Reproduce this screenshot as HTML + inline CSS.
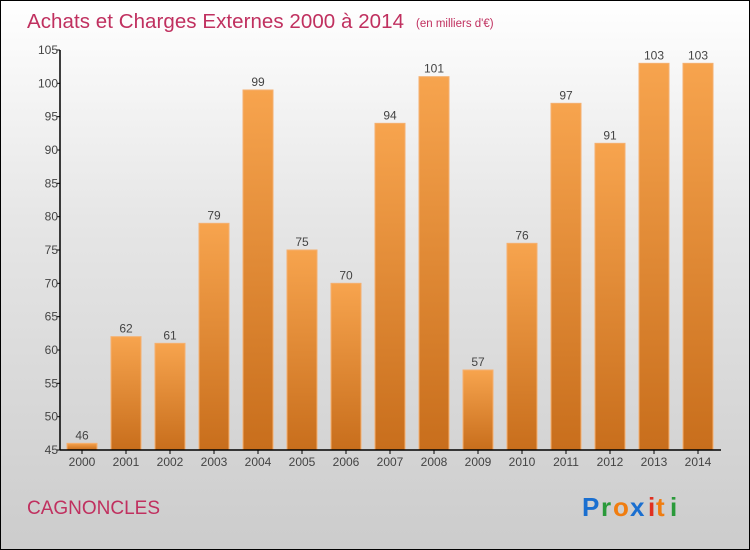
<!DOCTYPE html>
<html><head><meta charset="utf-8"><style>
html,body{margin:0;padding:0}
body{width:750px;height:550px;overflow:hidden;font-family:"Liberation Sans",sans-serif}
#wrap{position:absolute;left:0;top:0;width:748px;height:548px;border:1px solid #000;background:linear-gradient(#ffffff,#e6e6e6 40%,#cccccc)}
</style></head><body>
<div id="wrap">
<svg id="chart" width="750" height="550" style="position:absolute;left:-1px;top:-1px">
<defs><linearGradient id="bg" x1="0" y1="0" x2="0" y2="1"><stop offset="0" stop-color="#f7a44e"/><stop offset="1" stop-color="#c86e1c"/></linearGradient></defs>
<text x="27" y="28" font-size="20.5" fill="#c0305f" textLength="377">Achats et Charges Externes 2000 à 2014</text>
<text x="416" y="27" font-size="11.5" fill="#c0305f">(en milliers d'€)</text>
<text x="27" y="514" font-size="19" fill="#c0305f">CAGNONCLES</text>
<g font-size="26" font-weight="bold">
<text x="582" y="516" fill="#1a6fd0">P</text><text x="601" y="516" fill="#2a9a3a">r</text><text x="613" y="516" fill="#f07d10">o</text><text x="630" y="516" fill="#1a6fd0">x</text><text x="648" y="516" fill="#e03020">i</text><text x="656" y="516" fill="#f07d10">t</text><text x="670" y="516" fill="#2a9a3a">i</text></g>
<g id="bars"></g><g id="axes"></g>
</svg></div>
<script>
const years=["2000","2001","2002","2003","2004","2005","2006","2007","2008","2009","2010","2011","2012","2013","2014"];
const values=[46,62,61,79,99,75,70,94,101,57,76,97,91,103,103];
const yTicks=[45,50,55,60,65,70,75,80,85,90,95,100,105];
const NS="http://www.w3.org/2000/svg";
const x0=60,slot=44,yMin=45,yMax=105,yTop=50,yBot=450;
function y(v){return yBot-(v-yMin)*(yBot-yTop)/(yMax-yMin);}
function xc(i){return x0+slot*i+slot/2;}
function mk(t,a,p){const e=document.createElementNS(NS,t);for(const k in a)e.setAttribute(k,a[k]);p.appendChild(e);return e;}
const bars=document.getElementById('bars'),axes=document.getElementById('axes');
values.forEach((v,i)=>{
 const r=mk('rect',{x:xc(i)-15,y:y(v),width:30,height:yBot-y(v),fill:'url(#bg)',stroke:'#f5b070','stroke-width':1},bars);
 
 
 const t=mk('text',{x:xc(i),y:y(v)-4,'text-anchor':'middle','font-size':12,fill:'#444'},bars);t.textContent=v;
 
 
 const xl=mk('text',{x:xc(i),y:466,'text-anchor':'middle','font-size':12,fill:'#444'},axes);xl.textContent=years[i];
 
 
 mk('line',{x1:xc(i),x2:xc(i),y1:450,y2:454,stroke:'#000'},axes);
});
yTicks.forEach(v=>{
 mk('line',{x1:57,x2:60,y1:y(v),y2:y(v),stroke:'#000'},axes);
 const t=mk('text',{x:58,y:y(v)+4,'text-anchor':'end','font-size':12,fill:'#444'},axes);t.textContent=v;
 
 
});
const ya=mk('line',{x1:60,x2:60,y1:50,y2:450,stroke:'#000','stroke-width':1.5},axes);


const xa=mk('line',{x1:60,x2:721,y1:450,y2:450,stroke:'#000','stroke-width':1.5},axes);


</script>
</body></html>
